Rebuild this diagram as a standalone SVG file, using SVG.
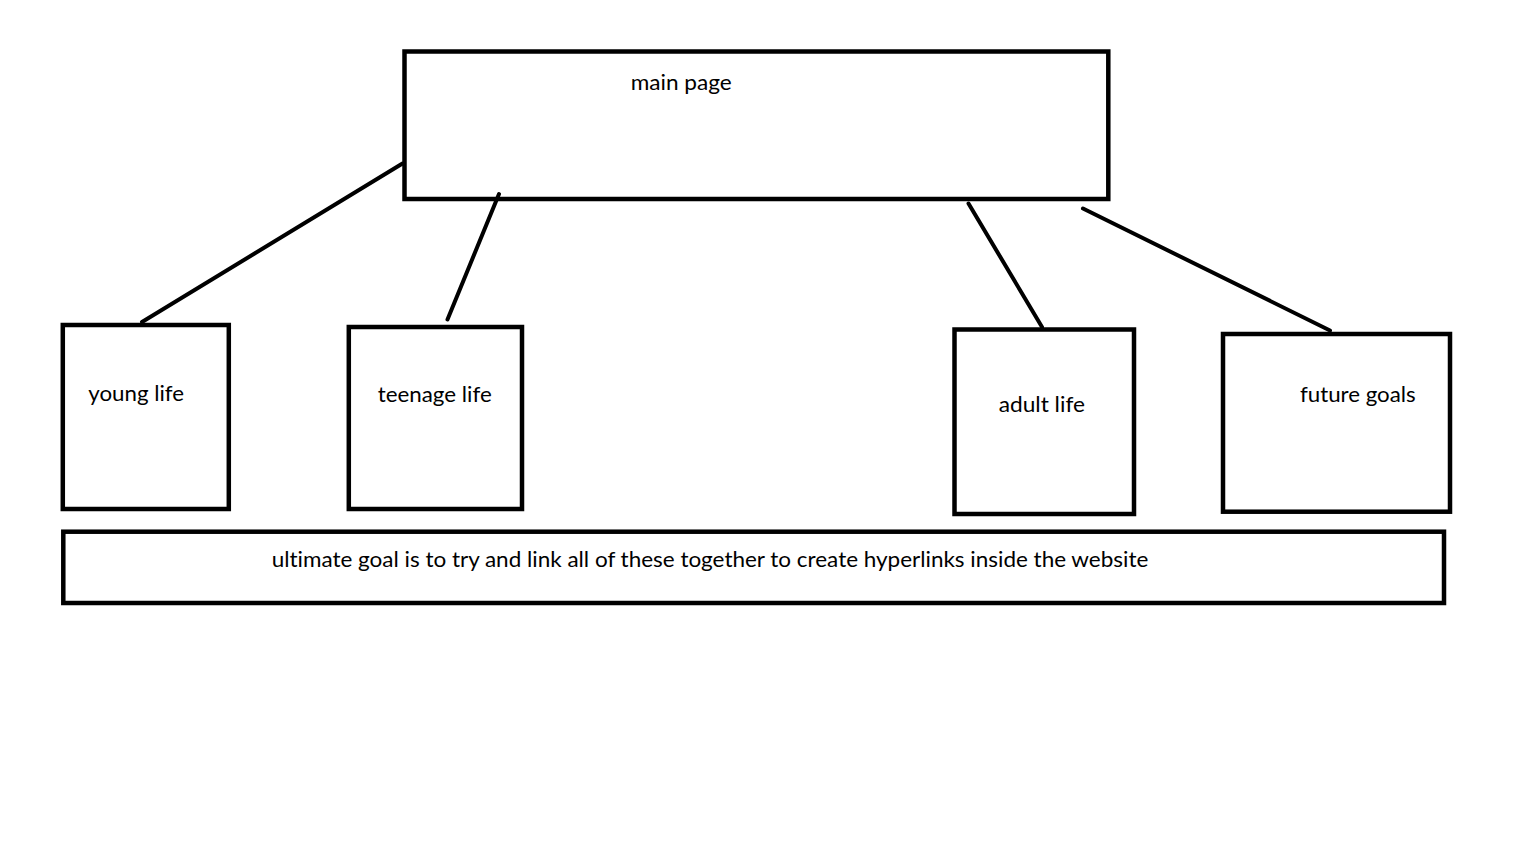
<svg xmlns="http://www.w3.org/2000/svg" width="1536" height="864" viewBox="0 0 1536 864">
<style>
.box{fill:#fff;stroke:#000;stroke-width:4.5}
.lbl{font-family:Lato,"Liberation Sans",sans-serif;font-size:21px;fill:#000;font-variant-ligatures:none}
.conn{stroke:#000;stroke-width:4;stroke-linecap:round;fill:none}
</style>
<rect x="0" y="0" width="1536" height="864" fill="#fff"/>
<g id="main-page">
<rect class="box" x="404.5" y="51.5" width="703.8" height="147.5"/>
<text class="lbl" x="630.7" y="90" textLength="101" lengthAdjust="spacingAndGlyphs">main page</text>
</g>
<g id="young-life">
<rect class="box" x="62.8" y="325" width="166" height="184"/>
<text class="lbl" x="88.3" y="400.7" textLength="95.7" lengthAdjust="spacingAndGlyphs">young life</text>
</g>
<g id="teenage-life">
<rect class="box" x="348.8" y="327" width="173.2" height="182"/>
<text class="lbl" x="377.7" y="401.7" textLength="114" lengthAdjust="spacingAndGlyphs">teenage life</text>
</g>
<g id="adult-life">
<rect class="box" x="954.5" y="329.5" width="179.5" height="184.5"/>
<text class="lbl" x="998.7" y="411.7" textLength="86.3" lengthAdjust="spacingAndGlyphs">adult life</text>
</g>
<g id="future-goals">
<rect class="box" x="1223" y="334" width="227" height="177.7"/>
<text class="lbl" x="1300" y="401.7" textLength="115.7" lengthAdjust="spacingAndGlyphs">future goals</text>
</g>
<g id="ultimate-goal">
<rect class="box" x="63.3" y="531.7" width="1380.7" height="71.3"/>
<text class="lbl" x="271.7" y="567.3" textLength="876.6" lengthAdjust="spacingAndGlyphs">ultimate goal is to try and link all of these together to create hyperlinks inside the website</text>
</g>
<g id="connectors">
<line class="conn" x1="402.5" y1="163.5" x2="142" y2="322"/>
<line class="conn" x1="499" y1="194" x2="447.5" y2="319.5"/>
<line class="conn" x1="968.5" y1="203.5" x2="1042" y2="327"/>
<line class="conn" x1="1083" y1="208.5" x2="1330" y2="330.5"/>
</g>
</svg>
